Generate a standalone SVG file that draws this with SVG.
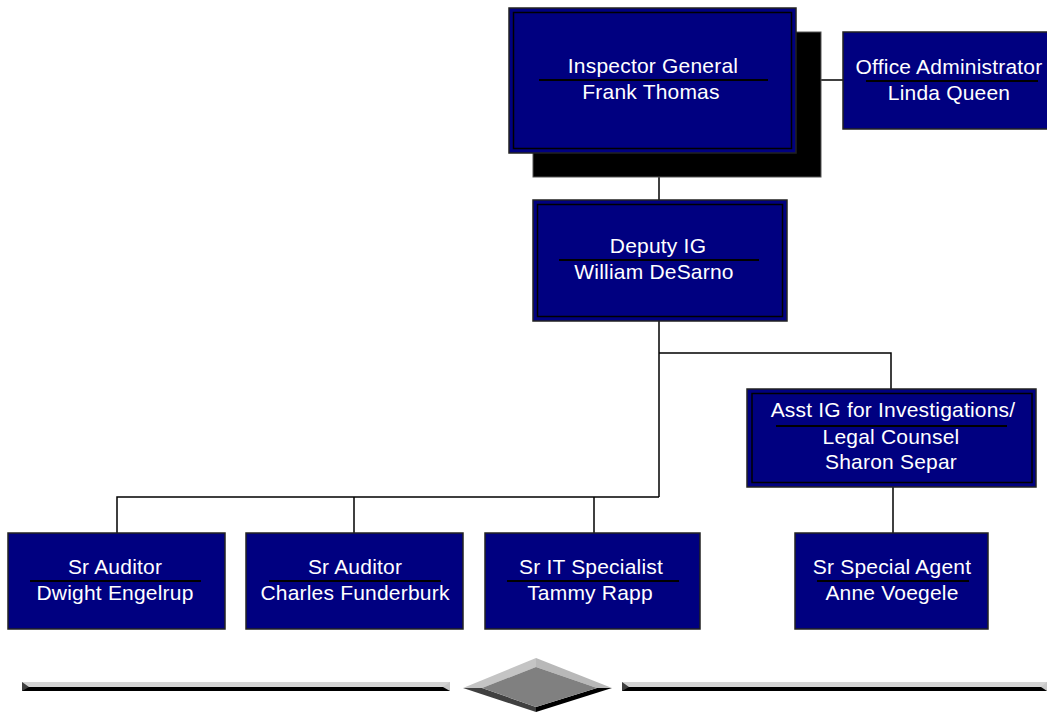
<svg xmlns="http://www.w3.org/2000/svg" width="1047" height="712" viewBox="0 0 1047 712">
<style>
.box{fill:#000080;stroke:#222;stroke-width:1.5}
.inner{fill:none;stroke:#000;stroke-width:1.5}
.sep{stroke:#000;stroke-width:2}
.t{font-family:"Liberation Sans",Arial,sans-serif;font-size:21px;letter-spacing:0.2px;fill:#fff;text-anchor:middle}
.conn{fill:none;stroke:#000;stroke-width:1.5}
</style>
<rect width="1047" height="712" fill="#fff"/>
<g id="connectors">
<line class="conn" x1="821" y1="80" x2="843" y2="80"/>
<line class="conn" x1="659" y1="177" x2="659" y2="200"/>
<polyline class="conn" points="659,321 659,497"/>
<polyline class="conn" points="659,353 891,353 891,389"/>
<polyline class="conn" points="117,533 117,497 659,497"/>
<line class="conn" x1="354" y1="497" x2="354" y2="533"/>
<line class="conn" x1="594" y1="497" x2="594" y2="533"/>
<line class="conn" x1="893" y1="487" x2="893" y2="533"/>
</g>
<g id="inspector-general">
<rect x="533" y="32" width="288" height="145" fill="#000" stroke="#555" stroke-width="1"/>
<rect class="box" x="509" y="8" width="287" height="145"/>
<rect class="inner" x="513.5" y="12.5" width="278" height="136"/>
<text class="t" x="653" y="73">Inspector General</text>
<line class="sep" x1="539" y1="80" x2="768" y2="80"/>
<text class="t" x="651" y="99">Frank Thomas</text>
</g>
<g id="office-administrator">
<rect class="box" x="843" y="32" width="215" height="97"/>
<text class="t" x="949" y="74">Office Administrator</text>
<line class="sep" x1="866" y1="81" x2="1038" y2="81"/>
<text class="t" x="949" y="100">Linda Queen</text>
</g>
<g id="deputy-ig">
<rect class="box" x="533" y="200" width="254" height="121"/>
<rect class="inner" x="537.5" y="204.5" width="245" height="112"/>
<text class="t" x="658" y="253">Deputy IG</text>
<line class="sep" x1="559" y1="260" x2="759" y2="260"/>
<text class="t" x="654" y="279">William DeSarno</text>
</g>
<g id="asst-ig">
<rect class="box" x="747" y="389" width="289" height="98"/>
<rect class="inner" x="752" y="393.5" width="280" height="89"/>
<text class="t" x="893" y="417">Asst IG for Investigations/</text>
<line class="sep" x1="776" y1="426" x2="1007" y2="426"/>
<text class="t" x="891" y="444">Legal Counsel</text>
<text class="t" x="891" y="469">Sharon Separ</text>
</g>
<g id="sr-auditor-1">
<rect class="box" x="8" y="533" width="217" height="96"/>
<text class="t" x="115" y="574">Sr Auditor</text>
<line class="sep" x1="30" y1="581" x2="201" y2="581"/>
<text class="t" x="115" y="600">Dwight Engelrup</text>
</g>
<g id="sr-auditor-2">
<rect class="box" x="246" y="533" width="217" height="96"/>
<text class="t" x="355" y="574">Sr Auditor</text>
<line class="sep" x1="269" y1="581" x2="441" y2="581"/>
<text class="t" x="355" y="600">Charles Funderburk</text>
</g>
<g id="sr-it-specialist">
<rect class="box" x="485" y="533" width="215" height="96"/>
<text class="t" x="591" y="574">Sr IT Specialist</text>
<line class="sep" x1="507" y1="581" x2="679" y2="581"/>
<text class="t" x="590" y="600">Tammy Rapp</text>
</g>
<g id="sr-special-agent">
<rect class="box" x="795" y="533" width="193" height="96"/>
<text class="t" x="892" y="574">Sr Special Agent</text>
<line class="sep" x1="817" y1="581" x2="969" y2="581"/>
<text class="t" x="892" y="600">Anne Voegele</text>
</g>
<g id="divider">
<rect x="22" y="682" width="428" height="5" fill="#d4d4d4"/>
<rect x="22" y="687" width="428" height="4" fill="#000"/>
<polygon points="22,682 29,687 22,691" fill="#404040"/>
<polygon points="450,682 450,691 443,687" fill="#c8c8c8"/>
<rect x="622" y="682" width="425" height="5" fill="#d4d4d4"/>
<rect x="622" y="687" width="425" height="4" fill="#000"/>
<polygon points="622,682 629,687 622,691" fill="#404040"/>
<polygon points="1047,682 1047,691 1041,687" fill="#c8c8c8"/>
<polygon points="463,688 536,658 536,667 482,688" fill="#c4c4c4"/>
<polygon points="536,658 612,688 597,688 536,667" fill="#b8b8b8"/>
<polygon points="463,688 482,688 536,707 536,712" fill="#404040"/>
<polygon points="536,712 536,707 597,688 612,688" fill="#000"/>
<polygon points="482,688 536,667 597,688 536,707" fill="#808080"/>
</g>
</svg>
